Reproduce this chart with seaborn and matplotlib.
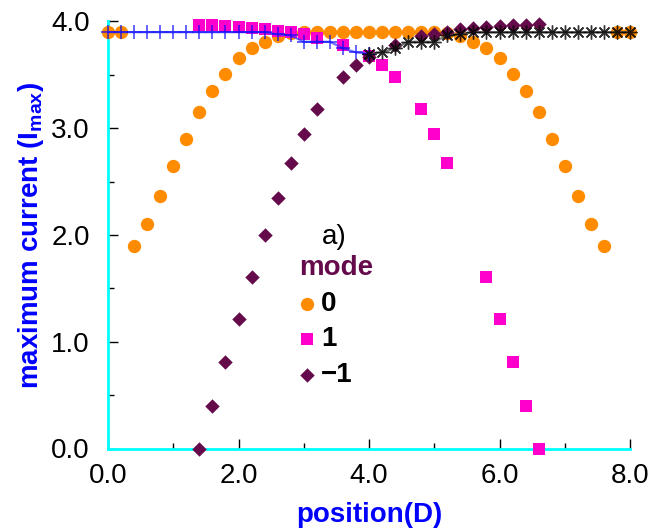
import numpy as np
import pandas as pd
import matplotlib
matplotlib.use("Agg")
import matplotlib.pyplot as plt
from matplotlib.ticker import MultipleLocator, FormatStrFormatter
import seaborn as sns

# ---- data ----
x0 = [0.0, 0.2, 0.4, 0.6, 0.8, 1.0, 1.2, 1.4, 1.6, 1.8, 2.0, 2.2, 2.4, 2.6, 2.8,
      3.0, 3.2, 3.4, 3.6, 3.8, 4.0, 4.2, 4.4, 4.6, 4.8, 5.0, 5.2,
      5.4, 5.6, 5.8, 6.0, 6.2, 6.4, 6.6, 6.8, 7.0, 7.2, 7.4, 7.6, 7.8, 8.0]
y0 = [3.90, 3.90, 1.90, 2.10, 2.37, 2.65, 2.90, 3.15, 3.35, 3.51, 3.66, 3.75, 3.81, 3.86, 3.89,
      3.90, 3.90, 3.90, 3.90, 3.90, 3.90, 3.90, 3.90, 3.90, 3.90, 3.90, 3.89,
      3.86, 3.81, 3.75, 3.66, 3.51, 3.35, 3.15, 2.90, 2.65, 2.37, 2.10, 1.90, 3.90, 3.90]

x1 = [1.4, 1.6, 1.8, 2.0, 2.2, 2.4, 2.6, 2.8, 3.0, 3.2, 3.6, 4.0, 4.2, 4.4,
      4.8, 5.0, 5.2, 5.8, 6.0, 6.2, 6.4, 6.6]
y1 = [3.97, 3.97, 3.96, 3.95, 3.94, 3.93, 3.91, 3.90, 3.88, 3.85, 3.78, 3.68, 3.59, 3.48,
      3.18, 2.95, 2.67, 1.61, 1.21, 0.81, 0.40, 0.00]

xm1 = [1.4, 1.6, 1.8, 2.0, 2.2, 2.4, 2.6, 2.8, 3.0, 3.2, 3.6, 3.8, 4.0, 4.4,
       4.8, 5.0, 5.2, 5.4, 5.6, 5.8, 6.0, 6.2, 6.4, 6.6]
ym1 = [0.00, 0.40, 0.81, 1.21, 1.61, 2.00, 2.35, 2.67, 2.95, 3.18, 3.48, 3.59, 3.67, 3.78,
       3.86, 3.88, 3.90, 3.93, 3.94, 3.95, 3.96, 3.97, 3.97, 3.98]

xb = [0.0, 0.2, 0.4, 0.6, 0.8, 1.0, 1.2, 1.4, 1.6, 1.8, 2.0, 2.2, 2.4, 2.6, 2.8,
      3.0, 3.2, 3.4, 3.6, 3.8, 4.0]
yb = [3.90, 3.90, 3.90, 3.90, 3.90, 3.90, 3.90, 3.90, 3.90, 3.90, 3.90, 3.90, 3.90, 3.88, 3.87,
      3.81, 3.81, 3.81, 3.75, 3.71, 3.70]

xk = [4.0, 4.2, 4.4, 4.6, 4.8, 5.0, 5.2, 5.4, 5.6, 5.8, 6.0, 6.2, 6.4, 6.6, 6.8,
      7.0, 7.2, 7.4, 7.6, 7.8, 8.0]
yk = [3.70, 3.71, 3.75, 3.81, 3.81, 3.81, 3.87, 3.88, 3.90, 3.90, 3.90, 3.90, 3.90, 3.90, 3.90,
      3.90, 3.90, 3.90, 3.90, 3.90, 3.90]

mode_labels = ["0", "1", "\u22121"]
mode_colors = ["#ff8c00", "#ff00cc", "#650a4a"]

xticks = [0.0, 2.0, 4.0, 6.0, 8.0]
yticks = [0.0, 1.0, 2.0, 3.0, 4.0]

# ---- style ----
sns.set_style("ticks")
plt.rcParams["font.family"] = ["Liberation Sans", "DejaVu Sans"]
plt.rcParams["text.color"] = "black"
plt.rcParams["mathtext.fontset"] = "custom"
plt.rcParams["mathtext.rm"] = "Liberation Sans"
plt.rcParams["mathtext.bf"] = "Liberation Sans:bold"

fig = plt.figure(figsize=(6.52, 5.29), dpi=100)
ax = fig.add_axes([108 / 652, 1 - 448.5 / 529, 522 / 652, 427 / 529])

df0 = pd.DataFrame({"x": x0, "y": y0})
df1 = pd.DataFrame({"x": x1, "y": y1})
dfm1 = pd.DataFrame({"x": xm1, "y": ym1})
dfb = pd.DataFrame({"x": xb, "y": yb})
dfk = pd.DataFrame({"x": xk, "y": yk})

sns.scatterplot(data=df0, x="x", y="y", ax=ax, marker="o", s=92, color=mode_colors[0],
                linewidth=0, label=mode_labels[0], zorder=3)
sns.scatterplot(data=df1, x="x", y="y", ax=ax, marker="s", s=68, color=mode_colors[1],
                linewidth=0, label=mode_labels[1], zorder=4)
sns.scatterplot(data=dfm1, x="x", y="y", ax=ax, marker="D", s=54, color=mode_colors[2],
                linewidth=0, label=mode_labels[2], zorder=5)

sns.lineplot(data=dfb, x="x", y="y", ax=ax, color="#3333ff", alpha=0.7, linewidth=1.6,
             marker="+", markersize=10, markeredgewidth=1.2, markeredgecolor="#0000ff",
             estimator=None, sort=False, legend=False, zorder=6)
sns.lineplot(data=dfk, x="x", y="y", ax=ax, color="#555555", alpha=0.8, linewidth=1.6,
             marker=(8, 2, 0), markersize=10, markeredgewidth=1.0, markeredgecolor="#000000",
             estimator=None, sort=False, legend=False, zorder=7)

for art in ax.collections + ax.lines:
    art.set_clip_on(False)

ax.set_xlim(0, 8)
ax.set_ylim(0, 4)
ax.set_xticks(xticks)
ax.set_yticks(yticks)
ax.xaxis.set_major_formatter(FormatStrFormatter("%.1f"))
ax.yaxis.set_major_formatter(FormatStrFormatter("%.1f"))
ax.xaxis.set_minor_locator(MultipleLocator(1.0))
ax.yaxis.set_minor_locator(MultipleLocator(0.5))
ax.tick_params(which="major", direction="in", length=7, width=1, color="black",
               labelsize=20, labelcolor="black")
ax.tick_params(axis="x", which="major", pad=10.5)
ax.tick_params(axis="y", which="major", pad=13)
ax.tick_params(which="minor", direction="in", length=4, width=1, color="black")

sns.despine(ax=ax)
for side in ["left", "bottom"]:
    ax.spines[side].set_color("#00ffff")
    ax.spines[side].set_linewidth(2)

ax.set_xlabel("position(D)", fontsize=20, fontweight="bold", color="#0000ff", labelpad=9)
ax.set_ylabel("maximum current (I$_{\\mathbf{max}}$)", fontsize=20, fontweight="bold",
              color="#0000ff", labelpad=4)

ax.text(0.41, 0.495, "a)", transform=ax.transAxes, fontsize=20, color="black",
        ha="left", va="center")

leg = ax.legend(title="mode", loc="upper left", bbox_to_anchor=(0.366, 0.452),
                frameon=False, prop={"weight": "bold", "size": 20},
                title_fontproperties={"weight": "bold", "size": 20},
                handletextpad=0.2, labelspacing=0.34, borderaxespad=0, borderpad=0,
                handlelength=0.6, alignment="left", markerscale=1.0)
leg.get_title().set_color("#650a4a")
for t in leg.get_texts():
    t.set_color("black")

fig.savefig("out.png", dpi=100)
